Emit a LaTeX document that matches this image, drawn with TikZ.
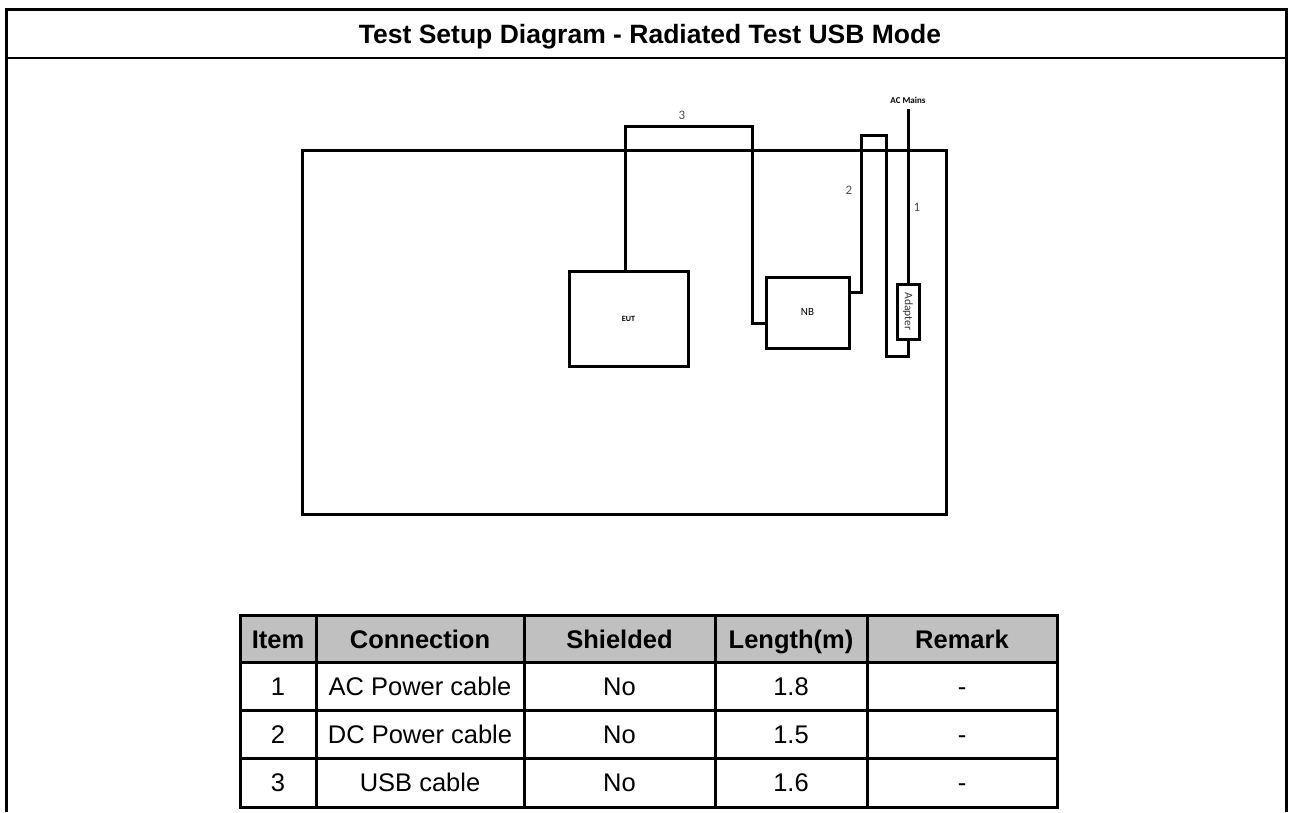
\documentclass[tikz,border=0pt]{standalone}
\usepackage{fontspec}
\setmainfont{Liberation Sans}
\newfontfamily\calib{Carlito}
\definecolor{hdrgray}{RGB}{192,192,192}
\definecolor{lblcol}{RGB}{85,75,65}
\begin{document}
\begin{tikzpicture}[x=1pt,y=-1pt,
  frameline/.style={line width=3pt},
  cable/.style={line width=3pt, line join=miter},
  devbox/.style={draw, line width=3pt, inner sep=0pt, font=\calib},
  cnum/.style={font=\calib\fontsize{13}{15}\selectfont, text=lblcol, inner sep=0pt},
  tline/.style={line width=3pt},
  hdr/.style={font=\bfseries\fontsize{25.5}{30}\selectfont, inner sep=0pt, text height=18.3pt, text depth=0pt},
  cell/.style={font=\fontsize{25.5}{30}\selectfont, inner sep=0pt, text height=18.3pt, text depth=0pt}]
\useasboundingbox (0,0) rectangle (1292,812);
\fill[white] (0,0) rectangle (1292,812);

% outer frame
\draw[frameline] (6.5,812) -- (6.5,9.5) -- (1286,9.5) -- (1286,812);
\draw[line width=2pt] (6.5,57.5) -- (1286,57.5);
\node[font=\bfseries\fontsize{26.5}{31}\selectfont, inner sep=0pt, text height=19pt, text depth=0pt] (title) at (650,34) {Test Setup Diagram - Radiated Test USB Mode};

% table surface
\draw[frameline] (302,150) rectangle (946,514);

% devices
\node[devbox, minimum width=119pt, minimum height=95pt, font=\calib\bfseries\fontsize{8}{9}\selectfont] (eut) at (628.5,319) {EUT};
\node[devbox, minimum width=83pt, minimum height=71pt, font=\calib\fontsize{11}{13}\selectfont] (nb) at (807.5,312.5) {\raisebox{1.5pt}{NB}};
\node[devbox, minimum width=22pt, minimum height=55pt, font=\calib\fontsize{11.5}{13}\selectfont, text=black!80] (adapter) at (908,311.5) {\rotatebox{-90}{Adapter}};
\node[font=\calib\bfseries\fontsize{9}{10}\selectfont, inner sep=0pt] (acm) at (908,100) {AC Mains};
\coordinate (acend) at (908,109);

% cable bend points
\coordinate (u1) at (625,126);
\coordinate (u2) at (752,126);
\coordinate (u3) at (0,323);
\coordinate (d0) at (0,292);
\coordinate (d1) at (861,135);
\coordinate (d2) at (886,356);

% USB cable (3)
\draw[cable] (eut.north -| u1) -- (u1) -- (u2) |- (nb.west |- u3);
% DC cable (2)
\draw[cable] (nb.east |- d0) -| (d1) -| (d2) -| (adapter.south);
% AC cable (1)
\draw[cable] (acend) -- (adapter.north);

% cable numbers
\node[cnum] (n3) at (682,115) {3};
\node[cnum] (n2) at (849,190) {2};
\node[cnum] (n1) at (917,207) {1};

% table
\fill[hdrgray] (240.5,615) rectangle (1057,662.5);
\draw[tline] (240.5,615) rectangle (1057,807);
\foreach \yy in {662.5,710,758} \draw[tline] (240.5,\yy) -- (1057,\yy);
\foreach \xx in {316,524,715,867} \draw[tline] (\xx,615) -- (\xx,807);

\node[hdr] (h1) at (278,639.5) {Item};
\node[hdr] (h2) at (420,639.5) {Connection};
\node[hdr] (h3) at (619.5,639.5) {Shielded};
\node[hdr] (h4) at (791,639.5) {Length(m)};
\node[hdr] (h5) at (962,639.5) {Remark};

\node[cell] (r1a) at (278,686) {1};
\node[cell] (r1b) at (420,686) {AC Power cable};
\node[cell] (r1c) at (619.5,686) {No};
\node[cell] (r1d) at (791,686) {1.8};
\node[cell] (r1e) at (962,686) {-};

\node[cell] (r2a) at (278,734) {2};
\node[cell] (r2b) at (420,734) {DC Power cable};
\node[cell] (r2c) at (619.5,734) {No};
\node[cell] (r2d) at (791,734) {1.5};
\node[cell] (r2e) at (962,734) {-};

\node[cell] (r3a) at (278,782.5) {3};
\node[cell] (r3b) at (420,782.5) {USB cable};
\node[cell] (r3c) at (619.5,782.5) {No};
\node[cell] (r3d) at (791,782.5) {1.6};
\node[cell] (r3e) at (962,782.5) {-};
\end{tikzpicture}
\end{document}
